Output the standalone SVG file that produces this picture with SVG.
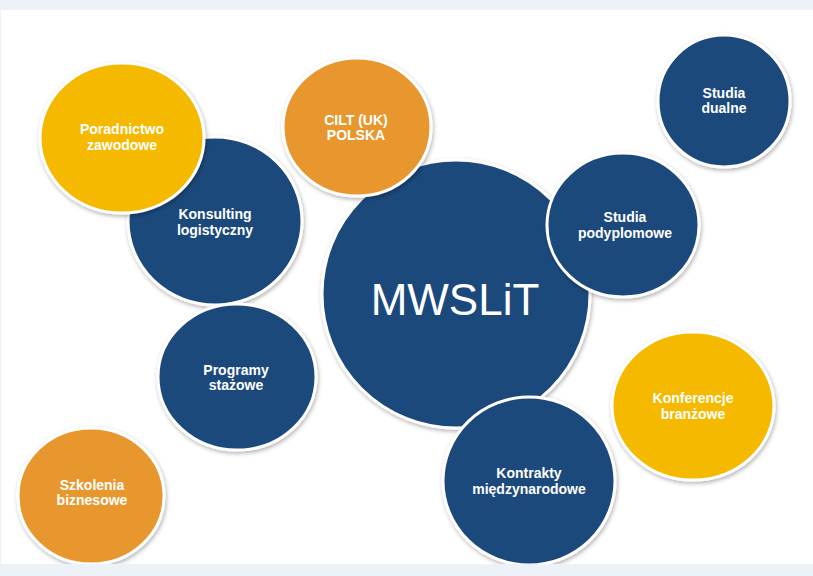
<svg xmlns="http://www.w3.org/2000/svg" width="813" height="576" viewBox="0 0 813 576">
<defs>
<filter id="sh" x="-20%" y="-20%" width="140%" height="140%">
<feDropShadow dx="1" dy="2" stdDeviation="2" flood-color="#000" flood-opacity="0.3"/>
</filter>
</defs>
<style>
.c{stroke:#ffffff;stroke-width:3;filter:url(#sh)}
.b{fill:#1e497b}
.o{fill:#e8972d}
.y{fill:#f5b900}
.t{font-family:"Liberation Sans",Arial,sans-serif;font-weight:bold;font-size:14px;fill:#ffffff;text-anchor:middle}
.big{font-family:"Liberation Sans",Arial,sans-serif;font-size:44px;fill:#ffffff;text-anchor:middle}
</style>
<rect x="0" y="0" width="813" height="576" fill="#edf2f8"/>
<rect x="1" y="10" width="812" height="554" fill="#ffffff"/>
<g id="konsulting">
<ellipse class="c b" cx="215" cy="221" rx="87" ry="84"/>
<text class="t" x="215" y="219">Konsulting</text>
<text class="t" x="215" y="235">logistyczny</text>
</g>
<g id="poradnictwo">
<ellipse class="c y" cx="122" cy="138" rx="82" ry="75"/>
<text class="t" x="122" y="134">Poradnictwo</text>
<text class="t" x="122" y="150">zawodowe</text>
</g>
<g id="mwslit">
<circle class="c b" cx="456" cy="294" r="134"/>
<text class="big" x="455" y="315">MWSLiT</text>
</g>
<g id="cilt">
<ellipse class="c o" cx="357" cy="127" rx="74" ry="69"/>
<text class="t" x="356" y="125">CILT (UK)</text>
<text class="t" x="356" y="140">POLSKA</text>
</g>
<g id="studia-dualne">
<circle class="c b" cx="724" cy="101" r="66"/>
<text class="t" x="724" y="98">Studia</text>
<text class="t" x="724" y="113">dualne</text>
</g>
<g id="studia-podyplomowe">
<ellipse class="c b" cx="623" cy="225" rx="76" ry="72"/>
<text class="t" x="625" y="222">Studia</text>
<text class="t" x="625" y="238">podyplomowe</text>
</g>
<g id="programy">
<ellipse class="c b" cx="237" cy="377" rx="79" ry="73"/>
<text class="t" x="236" y="375">Programy</text>
<text class="t" x="236" y="390">stażowe</text>
</g>
<g id="szkolenia">
<ellipse class="c o" cx="91" cy="496" rx="73" ry="68"/>
<text class="t" x="92" y="490">Szkolenia</text>
<text class="t" x="92" y="505">biznesowe</text>
</g>
<g id="konferencje">
<ellipse class="c y" cx="693" cy="406" rx="81" ry="74"/>
<text class="t" x="693" y="403">Konferencje</text>
<text class="t" x="693" y="419">branżowe</text>
</g>
<g id="kontrakty">
<ellipse class="c b" cx="529" cy="481" rx="86" ry="84"/>
<text class="t" x="529" y="478">Kontrakty</text>
<text class="t" x="529" y="494">międzynarodowe</text>
</g>
<rect x="0" y="564" width="813" height="12" fill="#edf2f8"/>
</svg>
